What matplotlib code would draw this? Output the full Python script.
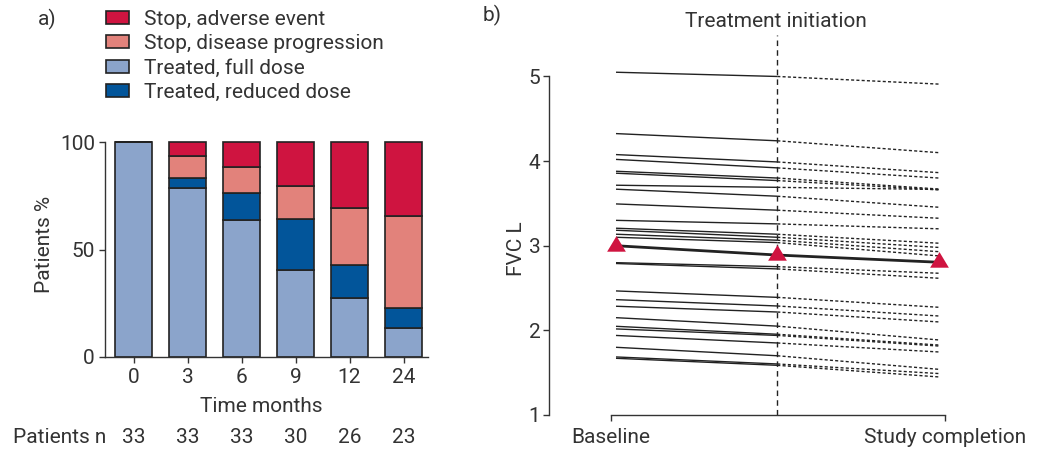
import matplotlib
matplotlib.use('Agg')
import matplotlib.pyplot as plt
import matplotlib.transforms as mtransforms
from matplotlib.path import Path

# ---------------- data ----------------
months = ['0', '3', '6', '9', '12', '24']
patients_n = [33, 33, 33, 30, 26, 23]
full_dose = [100, 78.5, 63.9, 40.3, 27.4, 13.2]
reduced_dose = [0, 4.7, 12.4, 23.8, 15.4, 9.4]
stop_progression = [0, 10.4, 12.3, 15.7, 26.6, 43.0]
stop_adverse = [0, 6.4, 11.4, 20.2, 30.6, 34.4]

fvc_baseline = [5.05, 4.325, 4.077, 4.02, 3.88, 3.857, 3.715, 3.668, 3.494, 3.30,
                3.207, 3.183, 3.136, 3.10, 2.80, 2.79, 2.466, 2.363, 2.285, 2.15,
                2.048, 2.017, 1.94, 1.80, 1.686, 1.67]
fvc_initiation = [5.00, 4.24, 3.99, 3.92, 3.80, 3.77, 3.69, 3.585, 3.42, 3.258,
                  3.136, 3.10, 3.065, 3.037, 2.753, 2.726, 2.39, 2.288, 2.217, 2.05,
                  1.954, 1.94, 1.851, 1.70, 1.603, 1.587]
fvc_completion = [4.91, 4.10, 3.864, 3.80, 3.67, 3.66, 3.665, 3.455, 3.325, 3.20,
                  3.03, 2.98, 2.93, 2.88, 2.675, 2.616, 2.273, 2.17, 2.10, 1.887,
                  1.827, 1.815, 1.745, 1.54, 1.49, 1.45]
fvc_mean = [3.00, 2.89, 2.805]
time_points = ['Baseline', 'Treatment initiation', 'Study completion']

# ---------------- style ----------------
plt.rcParams['font.family'] = ['Roboto', 'DejaVu Sans']
plt.rcParams['font.size'] = 15
TXT = '#333333'
EDGE = '#222222'
C_ADV = '#CF1440'
C_PROG = '#E2827B'
C_FULL = '#8BA4CB'
C_RED = '#02559A'

W, H = 1041, 451
fig = plt.figure(figsize=(W / 100, H / 100), dpi=100)


def fx(px):
    return px / W


def fy(py):
    return 1 - py / H


# ---------------- panel a ----------------
axa = fig.add_axes([fx(105), fy(356.7), fx(428.3) - fx(105), fy(142.3) - fy(356.7)])
x = list(range(len(months)))
bw = 0.7
kw = dict(width=bw, edgecolor=EDGE, linewidth=1.2, clip_on=False)
b_full = axa.bar(x, full_dose, color=C_FULL, label='Treated, full dose', **kw)
bot = list(full_dose)
b_red = axa.bar(x, reduced_dose, bottom=bot, color=C_RED, label='Treated, reduced dose', **kw)
bot = [a + b for a, b in zip(bot, reduced_dose)]
b_prog = axa.bar(x, stop_progression, bottom=bot, color=C_PROG, label='Stop, disease progression', **kw)
bot = [a + b for a, b in zip(bot, stop_progression)]
b_adv = axa.bar(x, stop_adverse, bottom=bot, color=C_ADV, label='Stop, adverse event', **kw)

axa.set_xlim(-0.528, 5.459)
axa.set_ylim(0, 100)
axa.set_yticks([0, 50, 100])
axa.set_xticks(x)
axa.set_xticklabels(months)
for s in ['top', 'right']:
    axa.spines[s].set_visible(False)
for s in ['left', 'bottom']:
    axa.spines[s].set_color(TXT)
    axa.spines[s].set_linewidth(1.0)
axa.tick_params(axis='both', direction='out', length=4.3, width=1.0, color=TXT,
                labelcolor=TXT, labelsize=15)
axa.tick_params(axis='y', pad=3)
axa.tick_params(axis='x', pad=4)

fig.text(fx(45), fy(244), 'Patients %', rotation=90, ha='center', va='center', color=TXT, fontsize=15)
fig.text(fx(261), fy(411.7), 'Time months', ha='center', va='baseline', color=TXT, fontsize=15)
fig.text(fx(13), fy(443.3), 'Patients n', ha='left', va='baseline', color=TXT, fontsize=15)
trans = mtransforms.blended_transform_factory(axa.transData, fig.transFigure)
for xi, n in zip(x, patients_n):
    axa.text(xi, fy(443.3), str(n), transform=trans, ha='center', va='baseline',
             color=TXT, fontsize=15)

fig.text(fx(38), fy(25), 'a)', ha='left', va='baseline', color=TXT, fontsize=15)
fs_px = 15 * 100 / 72
fig.legend(handles=[b_adv, b_prog, b_full, b_red],
           labels=['Stop, adverse event', 'Stop, disease progression',
                   'Treated, full dose', 'Treated, reduced dose'],
           loc='upper left', bbox_to_anchor=(fx(106), fy(10)), frameon=False,
           borderpad=0, borderaxespad=0, handlelength=23 / fs_px,
           handleheight=12 / fs_px, handletextpad=15 / fs_px, labelspacing=0.25,
           fontsize=15, labelcolor=TXT)

# ---------------- panel b ----------------
x0_px, unit_px = 616.0, 161.3
xl = (549 - x0_px) / unit_px
xr = 2.1
axb = fig.add_axes([fx(549), fy(415), (xr - xl) * unit_px / W, fy(35) - fy(415)])
for b, i, c in zip(fvc_baseline, fvc_initiation, fvc_completion):
    axb.plot([0, 1], [b, i], color=EDGE, lw=1.0, solid_capstyle='butt')
    axb.plot([1, 2], [i, c], color=EDGE, lw=1.0, linestyle=(0, (2.2, 1.6)))
axb.plot([0, 1, 2], fvc_mean, color=EDGE, lw=2.0, zorder=4)
tri = Path([(0, 1), (-0.9, -0.5), (0.9, -0.5), (0, 1)],
           [Path.MOVETO, Path.LINETO, Path.LINETO, Path.CLOSEPOLY])
axb.plot([0, 1, 2], fvc_mean, linestyle='none', marker=tri, markersize=15,
         color=C_ADV, markeredgewidth=0, zorder=5, clip_on=False)
axb.axvline(1, color=EDGE, lw=1.0, linestyle=(0, (4, 3)), zorder=1)

axb.set_xlim(xl, xr)
axb.set_ylim(1, 5.49)
axb.set_yticks([1, 2, 3, 4, 5])
axb.spines['left'].set_bounds(1, 5)
x_start, x_end = -0.033, 2.04
axb.spines['bottom'].set_bounds(x_start, x_end)
axb.set_xticks([x_start, x_end])
axb.set_xticklabels([time_points[0], time_points[2]])
for s in ['top', 'right']:
    axb.spines[s].set_visible(False)
for s in ['left', 'bottom']:
    axb.spines[s].set_color(TXT)
    axb.spines[s].set_linewidth(1.0)
axb.tick_params(axis='both', direction='out', length=4.3, width=1.0, color=TXT,
                labelcolor=TXT, labelsize=15)
axb.tick_params(axis='y', pad=2)
axb.tick_params(axis='x', pad=5)

fig.text(fx(517), fy(249), 'FVC L', rotation=90, ha='center', va='center', color=TXT, fontsize=15)
fig.text(fx(776), fy(26.7), time_points[1], ha='center', va='baseline', color=TXT, fontsize=15)
fig.text(fx(483), fy(21.7), 'b)', ha='left', va='baseline', color=TXT, fontsize=15)

fig.savefig('out.png', dpi=100)
